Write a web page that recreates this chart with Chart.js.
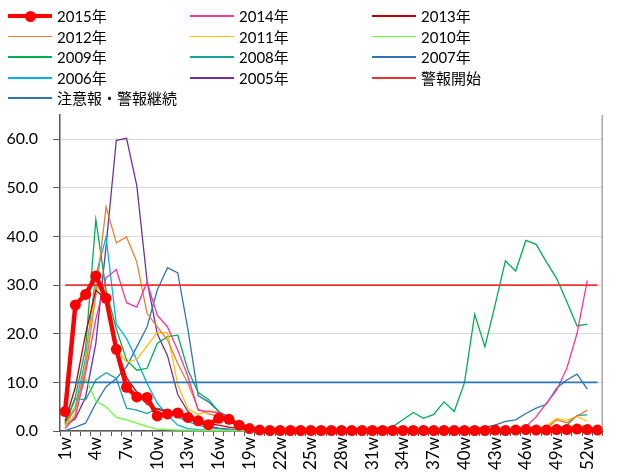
<!DOCTYPE html>
<html>
<head>
<meta charset="utf-8">
<script src="https://cdn.jsdelivr.net/npm/chart.js@4"></script>
<style>
  html, body { margin: 0; padding: 0; background: #fff; width: 619px; height: 474px; overflow: hidden; }
  #wrap { position: relative; width: 619px; height: 474px; }
  #chart { position: absolute; left: 0; top: 0; }
  #legend { position: absolute; left: 0; top: 0; width: 619px; height: 110px;
            font-family: Lato, "Noto Sans CJK JP", sans-serif; font-size: 15px; color: #000; }
  .item { position: absolute; height: 20px; line-height: 20px; white-space: nowrap; }
  .swatch { position: absolute; left: 0; width: 44px; }
  .dot { position: absolute; border-radius: 50%; }
  .text { position: absolute; left: 49px; top: 0; }
</style>
</head>
<body>
<div id="wrap">
  <canvas id="chart" width="619" height="474"></canvas>
  <div id="legend"></div>
</div>
<script>
// Week labels (2015 has 53 weeks)
const weeks = ["1w","2w","3w","4w","5w","6w","7w","8w","9w","10w","11w","12w","13w","14w","15w","16w","17w","18w","19w","20w",
  "21w","22w","23w","24w","25w","26w","27w","28w","29w","30w","31w","32w","33w","34w","35w","36w","37w","38w","39w","40w",
  "41w","42w","43w","44w","45w","46w","47w","48w","49w","50w","51w","52w","53w"];

// Reports per sentinel, by week
const y2015 = [4.0, 25.9, 28.1, 31.9, 27.3, 16.8, 9.0, 7.0, 6.9, 3.1, 3.5, 3.7, 2.8, 2.1, 1.3, 2.6, 2.4, 1.2, 0.5, 0.2,
  0.1, 0.1, 0.1, 0.1, 0.1, 0.1, 0.1, 0.1, 0.1, 0.1, 0.1, 0.1, 0.1, 0.1, 0.1, 0.1, 0.1, 0.1, 0.1, 0.1,
  0.1, 0.1, 0.2, 0.1, 0.2, 0.3, 0.2, 0.2, 0.3, 0.3, 0.4, 0.3, 0.2];
const y2014 = [0.5, 3.0, 12.0, 23.0, 31.5, 33.2, 26.4, 25.5, 30.6, 23.8, 21.4, 16.6, 11.2, 4.3, 4.0, 3.8, 2.5, 1.0, 0.5, 0.3,
  0.2, 0.1, 0.1, 0.1, 0.1, 0.1, 0.0, 0.0, 0.0, 0.0, 0.0, 0.0, 0.0, 0.0, 0.0, 0.1, 0.1, 0.1, 0.1, 0.1,
  0.1, 0.1, 0.2, 0.2, 0.4, 0.9, 2.9, 5.7, 8.4, 12.9, 20.1, 31.0];
const y2013 = [2.0, 9.0, 20.0, 29.0, 27.0, 17.0, 11.0, 8.0, 5.5, 4.5, 4.0, 3.2, 2.5, 2.0, 1.5, 1.2, 0.8, 0.5, 0.3, 0.2,
  0.1, 0.1, 0.1, 0.1, 0.1, 0.0, 0.0, 0.0, 0.0, 0.0, 0.0, 0.0, 0.0, 0.0, 0.0, 0.1, 0.1, 0.1, 0.1, 0.1,
  0.1, 0.1, 0.1, 0.1, 0.1, 0.2, 0.2, 0.3, 0.3, 0.5, 0.6, 0.8];
const y2012 = [1.5, 4.5, 13.0, 28.0, 46.1, 38.7, 39.9, 34.8, 24.2, 21.4, 18.7, 13.9, 9.8, 4.5, 3.5, 3.0, 2.0, 1.0, 0.5, 0.3,
  0.2, 0.1, 0.1, 0.1, 0.1, 0.0, 0.0, 0.0, 0.0, 0.0, 0.0, 0.0, 0.0, 0.0, 0.0, 0.1, 0.1, 0.1, 0.1, 0.1,
  0.1, 0.1, 0.1, 0.1, 0.1, 0.2, 0.2, 0.5, 2.3, 1.7, 3.1, 4.3];
const y2011 = [1.0, 3.5, 14.0, 30.3, 27.0, 17.0, 14.2, 14.7, 17.5, 20.3, 20.2, 9.5, 4.5, 3.4, 4.2, 3.8, 2.0, 0.8, 0.4, 0.2,
  0.1, 0.1, 0.1, 0.1, 0.1, 0.0, 0.0, 0.0, 0.0, 0.0, 0.0, 0.0, 0.0, 0.0, 0.0, 0.1, 0.1, 0.1, 0.1, 0.1,
  0.1, 0.1, 0.1, 0.1, 0.1, 0.2, 0.3, 1.0, 2.6, 2.2, 3.0, 2.0];
const y2010 = [0.8, 5.0, 10.8, 6.2, 5.0, 2.8, 2.3, 1.6, 0.9, 0.4, 0.3, 0.2, 0.2, 0.1, 0.1, 0.1, 0.1, 0.1, 0.1, 0.1,
  0.1, 0.1, 0.1, 0.1, 0.1, 0.0, 0.0, 0.0, 0.0, 0.0, 0.0, 0.0, 0.0, 0.0, 0.0, 0.1, 0.1, 0.1, 0.1, 0.1,
  0.1, 0.1, 0.1, 0.1, 0.2, 0.2, 0.3, 0.3, 0.5, 0.8, 1.2, 1.0];
const y2009 = [1.5, 7.0, 17.0, 43.5, 29.0, 21.0, 14.6, 12.5, 12.9, 18.0, 19.4, 19.7, 12.5, 7.9, 6.5, 4.0, 2.3, 1.0, 0.6, 0.4,
  0.3, 0.3, 0.3, 0.3, 0.3, 0.3, 0.3, 0.4, 0.4, 0.5, 0.5, 0.7, 0.9, 2.3, 3.8, 2.6, 3.4, 6.0, 4.0, 9.9,
  24.0, 17.3, 26.0, 35.0, 32.9, 39.2, 38.4, 34.8, 31.4, 26.6, 21.6, 22.0];
const y2008 = [1.6, 6.7, 6.4, 10.5, 12.0, 10.8, 4.7, 4.3, 3.6, 4.7, 4.2, 2.9, 1.9, 1.2, 0.7, 0.5, 0.3, 0.2, 0.1, 0.1,
  0.1, 0.1, 0.1, 0.1, 0.1, 0.0, 0.0, 0.0, 0.0, 0.0, 0.0, 0.0, 0.0, 0.0, 0.0, 0.1, 0.1, 0.1, 0.1, 0.1,
  0.1, 0.1, 0.1, 0.1, 0.1, 0.2, 0.2, 0.3, 0.6, 1.2, 3.2, 3.3];
const y2007 = [0.1, 0.8, 1.6, 5.7, 9.1, 10.8, 13.2, 17.3, 21.4, 29.0, 33.6, 32.5, 20.8, 7.3, 6.0, 4.0, 2.9, 1.2, 0.6, 0.3,
  0.2, 0.1, 0.1, 0.1, 0.1, 0.0, 0.0, 0.0, 0.0, 0.0, 0.0, 0.0, 0.0, 0.0, 0.0, 0.1, 0.1, 0.1, 0.2, 0.3,
  0.5, 0.8, 1.2, 2.0, 2.3, 3.6, 4.7, 5.5, 8.8, 10.5, 11.7, 8.6];
const y2006 = [1.6, 5.0, 15.0, 32.0, 39.9, 22.0, 19.0, 14.6, 9.8, 5.7, 3.3, 1.2, 0.5, 0.3, 0.2, 0.1, 0.1, 0.1, 0.1, 0.1,
  0.1, 0.1, 0.1, 0.1, 0.1, 0.0, 0.0, 0.0, 0.0, 0.0, 0.0, 0.0, 0.0, 0.0, 0.0, 0.1, 0.1, 0.1, 0.1, 0.1,
  0.1, 0.1, 0.1, 0.1, 0.1, 0.1, 0.1, 0.1, 0.2, 0.3, 0.4, 0.5];
const y2005 = [1.2, 2.5, 7.0, 18.0, 38.0, 59.8, 60.2, 50.5, 31.0, 20.0, 15.5, 7.5, 4.0, 2.0, 1.0, 0.6, 0.4, 0.2, 0.1, 0.1,
  0.1, 0.1, 0.1, 0.1, 0.1, 0.0, 0.0, 0.0, 0.0, 0.0, 0.0, 0.0, 0.0, 0.0, 0.0, 0.1, 0.1, 0.1, 0.1, 0.1,
  0.1, 0.1, 0.1, 0.1, 0.1, 0.1, 0.1, 0.2, 0.3, 0.5, 0.7, 0.9];

// Alert thresholds
const alertStart = [30,30,30,30,30,30,30,30,30,30,30,30,30,30,30,30,30,30,30,30,30,30,30,30,30,30,
  30,30,30,30,30,30,30,30,30,30,30,30,30,30,30,30,30,30,30,30,30,30,30,30,30,30,30];
const alertContinue = [10,10,10,10,10,10,10,10,10,10,10,10,10,10,10,10,10,10,10,10,10,10,10,10,10,10,
  10,10,10,10,10,10,10,10,10,10,10,10,10,10,10,10,10,10,10,10,10,10,10,10,10,10,10];

const yTicks = [0, 10, 20, 30, 40, 50, 60];

const FONT = 'Lato, "Noto Sans CJK JP", sans-serif';

function thin(label, data, color) {
  return { label, data, borderColor: color, backgroundColor: color, borderWidth: 1.3,
           pointRadius: 0, tension: 0, order: 2, _lw: 1.6 };
}

const datasets = [
  { label: "2015年", data: y2015, borderColor: "#FF0000", backgroundColor: "#FF0000",
    borderWidth: 4.5, pointRadius: 5.5, pointBackgroundColor: "#FF0000", pointBorderWidth: 0,
    tension: 0, order: 0, clip: 8, _lw: 4, _dot: true },
  thin("2014年", y2014, "#FF3399"),
  thin("2013年", y2013, "#C00000"),
  thin("2012年", y2012, "#ED7D31"),
  thin("2011年", y2011, "#FFC000"),
  thin("2010年", y2010, "#66FF33"),
  thin("2009年", y2009, "#00B050"),
  thin("2008年", y2008, "#17A2A2"),
  thin("2007年", y2007, "#2E75B6"),
  thin("2006年", y2006, "#00B0F0"),
  thin("2005年", y2005, "#7030A0"),
  { label: "警報開始", data: alertStart, borderColor: "#EE3333", borderWidth: 1.8,
    pointRadius: 0, tension: 0, order: 1, _lw: 1.6 },
  { label: "注意報・警報継続", data: alertContinue, borderColor: "#2E75B6", borderWidth: 1.8,
    pointRadius: 0, tension: 0, order: 1, _lw: 1.6 }
];

// Right edge of the plot frame
const frame = {
  id: 'frame',
  afterDatasetsDraw(c) {
    const { ctx, chartArea: a } = c;
    ctx.save();
    ctx.strokeStyle = '#7f7f7f';
    ctx.lineWidth = 1;
    ctx.beginPath();
    ctx.moveTo(a.right - 0.5, a.top);
    ctx.lineTo(a.right - 0.5, a.bottom);
    ctx.stroke();
    ctx.restore();
  }
};

new Chart(document.getElementById('chart'), {
  type: 'line',
  data: { labels: weeks, datasets },
  options: {
    responsive: false,
    animation: false,
    layout: { padding: { top: 115, right: 2, left: 0, bottom: 0 } },
    plugins: { legend: { display: false }, tooltip: { enabled: false } },
    scales: {
      x: {
        offset: true,
        grid: { offset: true, drawOnChartArea: false, drawTicks: true, tickLength: 5, tickColor: '#595959' },
        border: { color: '#595959', width: 1.5 },
        ticks: {
          autoSkip: false, minRotation: 90, maxRotation: 90, padding: 1,
          color: '#000', font: { family: FONT, size: 17 },
          callback: (v, i) => (i % 3 === 0 ? weeks[i] : '')
        },
        afterFit: s => { s.height = 43; }
      },
      y: {
        min: 0, max: 65,
        afterBuildTicks: s => { s.ticks = yTicks.map(v => ({ value: v })); },
        afterFit: s => { s.width = 60; },
        grid: { color: '#D9D9D9', lineWidth: 1, tickLength: 7, tickColor: '#595959' },
        border: { color: '#595959', width: 1.5 },
        ticks: { padding: 15, color: '#000', font: { family: FONT, size: 16 },
                 callback: v => Number(v).toFixed(1) }
      }
    }
  },
  plugins: [frame]
});

// Three-column legend built from the datasets
const legendEl = document.getElementById('legend');
const colX = [8, 190, 372];
const rowY = [16, 36.7, 57.3, 77.8, 98.3];
datasets.forEach((ds, i) => {
  const col = i % 3, row = Math.floor(i / 3);
  const item = document.createElement('div');
  item.className = 'item';
  item.style.left = colX[col] + 'px';
  item.style.top = (rowY[row] - 10) + 'px';
  const sw = document.createElement('div');
  sw.className = 'swatch';
  sw.style.height = ds._lw + 'px';
  sw.style.top = (10 - ds._lw / 2) + 'px';
  sw.style.background = ds.borderColor;
  item.appendChild(sw);
  if (ds._dot) {
    const d = document.createElement('div');
    d.className = 'dot';
    d.style.width = '11px'; d.style.height = '11px';
    d.style.left = '16.5px'; d.style.top = '4.5px';
    d.style.background = ds.borderColor;
    item.appendChild(d);
  }
  const t = document.createElement('div');
  t.className = 'text';
  t.textContent = ds.label;
  item.appendChild(t);
  legendEl.appendChild(item);
});
</script>
</body>
</html>
